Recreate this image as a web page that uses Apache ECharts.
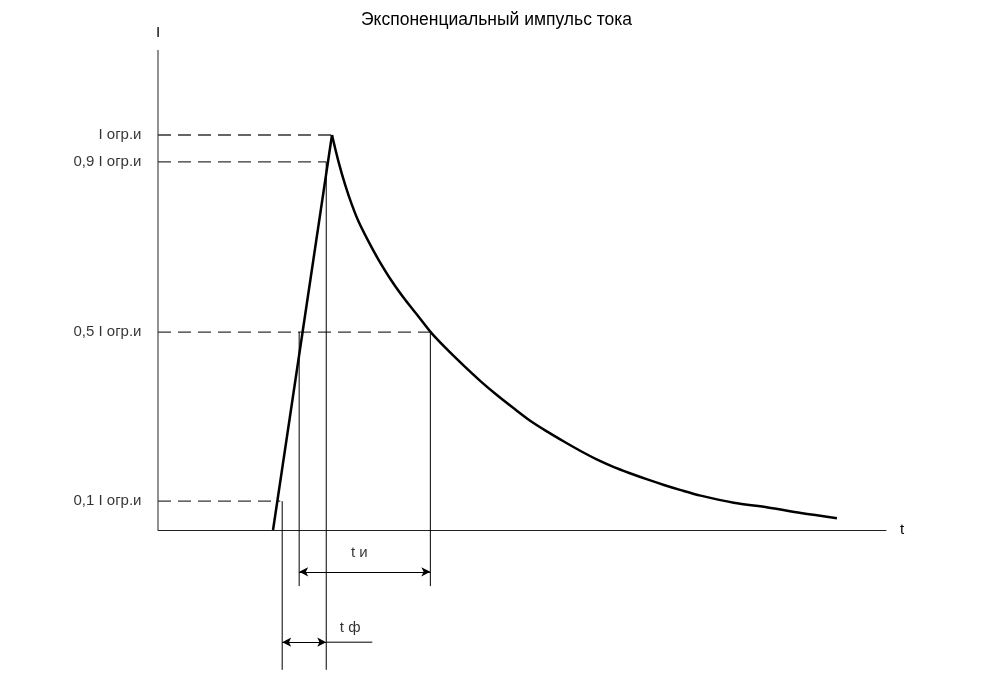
<!DOCTYPE html>
<html>
<head>
<meta charset="utf-8">
<script src="https://cdn.jsdelivr.net/npm/echarts@6/dist/echarts.min.js"></script>
<style>
html,body{margin:0;padding:0;background:#fff;}
#chart{width:998px;height:692px;}
</style>
</head>
<body>
<div id="chart"></div>
<script>
// ---- data (t in arbitrary units 0..100, I relative to I огр.и) ----
const titleText = 'Экспоненциальный импульс тока';
const riseT = [15.8, 23.9];
const riseI = [0, 1];
const decayT = [23.9, 24.8, 25.72, 26.64, 27.55, 28.93, 30.3, 32.15, 33.98, 35.8, 37.55, 39.71, 42.0, 44.29, 46.59, 48.87, 51.17, 53.47, 55.75, 58.05, 60.34, 62.63, 64.92, 67.22, 69.5, 71.82, 74.55, 79.09, 83.77, 88.31, 93.26];
const decayI = [1, 0.932, 0.873, 0.823, 0.781, 0.73, 0.684, 0.629, 0.582, 0.54, 0.499, 0.457, 0.416, 0.377, 0.341, 0.308, 0.276, 0.249, 0.224, 0.2, 0.178, 0.159, 0.143, 0.128, 0.114, 0.101, 0.087, 0.069, 0.057, 0.043, 0.03];

const levelNames = ['I огр.и', '0,9 I огр.и', '0,5 I огр.и', '0,1 I огр.и'];
const levelI = [1, 0.932, 0.501, 0.073];
const levelEndT = [23.9, 23.1, 37.4, 16.8];

const vertT = [17.06, 19.39, 23.11, 37.41];
const vertTopI = [0.073, 0.501, 0.932, 0.501];
const vertBottomI = [-0.354, -0.142, -0.354, -0.142];

const dimNames = ['t и', 't ф'];
const dimFromT = [19.39, 17.06];
const dimToT = [37.41, 23.11];
const dimI = [-0.106, -0.284];
const dimLabelT = [27.65, 26.4];
const dimLabelI = [-0.058, -0.248];
const extFromT = [23.11];
const extToT = [29.44];
const extI = [-0.284];

const axisNameI = 'I';
const axisNameT = 't';
const tMax = 100, iMin = -0.4, iMax = 1.2152;

// ---- build ----
const FONT = "'Liberation Sans', Arial, sans-serif";
const series = [];

// y axis line (drawn as series so it stops at 0)
series.push({type:'line', data:[[0,0],[0,iMax]], showSymbol:false, silent:true,
  lineStyle:{color:'#222', width:1}, animation:false});

// rise and decay
series.push({type:'line', data: riseT.map((t,i)=>[t, riseI[i]]), showSymbol:false,
  lineStyle:{color:'#000', width:2.5}, animation:false, z:5});
series.push({type:'line', data: decayT.map((t,i)=>[t, decayI[i]]), showSymbol:false, smooth:0.3,
  lineStyle:{color:'#000', width:2.5, join:'round'}, animation:false, z:5});

// dashed level lines
levelI.forEach((v,i)=>{
  series.push({type:'line', data:[[0,v],[levelEndT[i],v]], showSymbol:false, silent:true,
    lineStyle:{color:'#333', width:1.3, type:[13,7]}, animation:false});
});

// level labels
series.push({type:'scatter', data: levelI.map((v,i)=>[0, v, levelNames[i]]), symbolSize:1,
  itemStyle:{color:'transparent'}, silent:true, animation:false,
  label:{show:true, position:'left', distance:16, color:'#000', fontSize:15, fontFamily:FONT,
    formatter:p=>p.value[2]}});

// vertical thin lines
vertT.forEach((t,i)=>{
  series.push({type:'line', data:[[t,vertTopI[i]],[t,vertBottomI[i]]], showSymbol:false, silent:true,
    lineStyle:{color:'#000', width:1}, animation:false});
});

// extension line
extFromT.forEach((t,i)=>{
  series.push({type:'line', data:[[t,extI[i]],[extToT[i],extI[i]]], showSymbol:false, silent:true,
    lineStyle:{color:'#000', width:1}, animation:false});
});

// dimension arrows
series.push({type:'line', data:[], silent:true, animation:false,
  markLine:{silent:true, animation:false, symbol:['arrow','arrow'], symbolSize:[7,9],
    lineStyle:{color:'#000', width:1, type:'solid'}, label:{show:false},
    data: dimNames.map((n,i)=>[{coord:[dimFromT[i], dimI[i]]},{coord:[dimToT[i], dimI[i]]}])}});

// dimension labels
series.push({type:'scatter', data: dimNames.map((n,i)=>[dimLabelT[i], dimLabelI[i], n]), symbolSize:1,
  itemStyle:{color:'transparent'}, silent:true, animation:false,
  label:{show:true, position:'inside', color:'#000', fontSize:15, fontFamily:FONT,
    formatter:p=>p.value[2]}});

const chart = echarts.init(document.getElementById('chart'), null, {renderer:'canvas'});
chart.setOption({
  backgroundColor:'#fff',
  animation:false,
  title:{text:titleText, left:356, top:6, textStyle:{fontSize:17.5, fontWeight:'normal', color:'#000', fontFamily:FONT}},
  grid:{left:158, right:112, top:50, bottom:4, containLabel:false},
  xAxis:{type:'value', min:0, max:tMax, name:axisNameT, nameLocation:'end', nameGap:14,
    nameTextStyle:{color:'#000', fontSize:15, fontFamily:FONT},
    axisLine:{show:true, onZero:true, lineStyle:{color:'#222', width:1}},
    axisTick:{show:false}, axisLabel:{show:false}, splitLine:{show:false}},
  yAxis:{type:'value', min:iMin, max:iMax, name:axisNameI, nameLocation:'end', nameGap:10,
    nameTextStyle:{color:'#000', fontSize:15, fontFamily:FONT, align:'center'},
    axisLine:{show:false}, axisTick:{show:false}, axisLabel:{show:false}, splitLine:{show:false}},
  series: series
});
</script>
</body>
</html>
